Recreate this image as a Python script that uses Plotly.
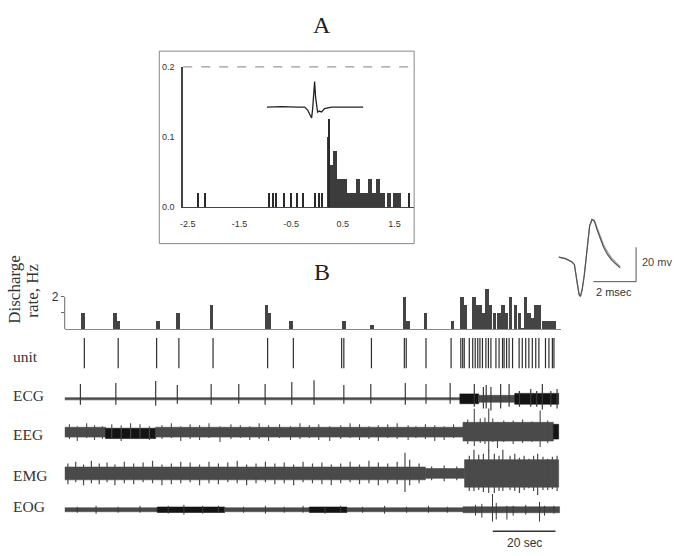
import plotly.graph_objects as go

W, H = 677, 556
def px(x): return x / W
def py(y): return 1 - y / H

# ---------------- Panel A data ----------------
A_XTICKS = [-2.5, -1.5, -0.5, 0.5, 1.5]
A_XTICK_TEXT = ["-2.5", "-1.5", "-0.5", "0.5", "1.5"]
A_YTICKS = [0.0, 0.1, 0.2]
A_YTICK_TEXT = ["0.0", "0.1", "0.2"]

A_ISO_X = [-2.30, -2.16, -0.92, -0.84, -0.79, -0.63, -0.49, -0.38, -0.26, -0.04, 0.04, 0.11, 1.78, 0.23]
A_ISO_Y = [0.02, 0.02, 0.02, 0.02, 0.02, 0.02, 0.02, 0.02, 0.02, 0.02, 0.02, 0.02, 0.02, 0.126]

A_HIST_X = [0.21, 0.25, 0.29, 0.33, 0.37, 0.41, 0.45, 0.49, 0.53, 0.57, 0.61, 0.65,
            0.69, 0.73, 0.77, 0.81, 0.85, 0.89, 0.93, 0.97, 1.01, 1.05, 1.09, 1.13,
            1.17, 1.21, 1.25, 1.29, 1.33, 1.37, 1.41, 1.45, 1.49, 1.53, 1.57, 1.61]
A_HIST_Y = [0.10, 0.06, 0.06, 0.08, 0.08, 0.04, 0.04, 0.04, 0.04, 0.04, 0.02, 0.02,
            0.02, 0.02, 0.04, 0.04, 0.02, 0.02, 0.02, 0.02, 0.04, 0.04, 0.02, 0.02,
            0.04, 0.04, 0.02, 0.02, 0.00, 0.02, 0.02, 0.00, 0.02, 0.02, 0.02, 0.02]

A_WAVE_T = [0, 15, 30, 38, 41, 43, 45, 46, 47, 48, 49, 50, 51, 53, 55, 58, 65, 97]
A_WAVE_V = [0, 0.5, 0, 0, -3, -8, -11, -2, 14, 26, 10, -2, -5, -4, -5, -1.5, 0, 0]

# ---------------- Spike waveform inset (ms, mV) ----------------
SPK_T = [0, 0.31, 0.62, 0.73, 0.85, 0.95, 1.01, 1.09, 1.19, 1.32, 1.44, 1.55, 1.66,
         1.78, 1.94, 2.09, 2.28, 2.48, 2.72, 2.87]
SPK_V = [0, -0.9, -2.9, -4.4, -14.3, -21.9, -22.9, -19.0, -10.5, 6.7, 18.1, 21.9, 20.9,
         16.2, 10.5, 5.7, 1.4, -1.9, -4.7, -6.3]
SPK_V2 = [0, -0.9, -2.9, -4.4, -14.3, -21.9, -22.9, -19.0, -10.5, 6.7, 18.1, 21.9, 21.5,
          17.4, 12.0, 7.2, 2.8, -0.8, -3.8, -5.6]
SCALE_MS = 2.0
SCALE_MV = 20.0

# ---------------- Panel B data (time in s) ----------------
RATE_T = [5.8, 16.0, 17.1, 29.7, 36.1, 46.7, 64.2, 65.2, 72.1,
          88.9, 97.8, 108.2, 109.4, 114.9, 123.5, 126.5, 127.7, 130.4, 131.3, 132.3,
          133.4, 134.5, 135.7, 137.0, 138.4, 139.6, 140.7, 142.1, 143.6, 144.9, 145.8,
          146.9, 148.0, 149.1, 150.1, 151.1, 152.8, 153.9, 154.9, 156.0]
RATE_HZ = [1.0, 1.0, 0.5, 0.5, 1.0, 1.5, 1.5, 1.0, 0.5,
           0.5, 0.25, 2.0, 0.5, 1.0, 0.5, 2.0, 1.5, 2.0, 1.5, 1.5,
           1.0, 2.5, 1.5, 1.0, 1.0, 1.5, 1.0, 2.0, 1.5, 1.0, 0.1,
           2.0, 1.0, 0.7, 1.5, 1.5, 0.5, 0.5, 0.5, 0.5]
RATE_TICKS = [1, 2]
RATE_TICK_TEXT = ["", "2"]

UNIT_T = [6.25, 17.05, 29.3, 36.4, 47.3, 64.7, 72.9, 88.3, 89.0, 97.8, 108.3, 108.9,
          115.2, 123.2, 126.3, 126.9, 127.4, 129.0, 130.1, 130.9, 131.7, 132.4, 133.2,
          134.3, 135.1, 135.9, 137.5, 138.5, 139.6, 140.1, 140.9, 141.7, 142.8, 144.9,
          145.9, 147.0, 148.0, 149.1, 150.2, 151.2, 153.3, 154.4, 155.5, 156.0]

# band segments: start, end, upper, lower, dark(1)/grey(0)
ECG_SEG = dict(t0=[0.0, 126.0, 132.0, 143.5], t1=[126.0, 132.0, 143.5, 157.5],
               up=[1.1, 5.0, 3.5, 5.5], lo=[-1.1, -5.0, -3.5, -5.5], dark=[0, 1, 0, 1])
ECG_SPK_T = [5.0, 16.3, 29.0, 35.9, 46.7, 55.5, 63.9, 72.4, 79.5, 89.0, 97.6, 108.6,
             115.2, 122.9, 130.6, 133.5, 134.4, 135.9, 139.0, 141.7, 145.0, 148.6,
             150.5, 152.3, 155.0, 157.0]
ECG_SPK_UP = [15, 16, 18, 14, 15, 15, 15, 17, 19, 14, 15, 16, 15, 16, 15, 12, 14, 12,
              15, 15, 8, 10, 8, 15, 8, 10]
ECG_SPK_DN = [-6, -6, -7, -5, -6, -5, -6, -6, -6, -5, -5, -6, -5, -5, -8, -10, -10,
              -12, -10, -8, -8, -8, -8, -11, -8, -10]

EEG_SEG = dict(t0=[0.0, 13.0, 29.0, 127.0, 155.8], t1=[13.0, 29.0, 127.0, 155.8, 157.5],
               up=[5.0, 4.0, 5.0, 10.0, 8.0], lo=[-5.0, -6.5, -5.0, -9.0, -7.0],
               dark=[0, 1, 0, 0, 1])
EEG_SPK_T = [1.5, 4, 7, 9.5, 12, 15, 18, 21, 24, 27, 31, 34, 37, 40, 43, 46, 49.5, 53,
             56, 59, 62, 65, 68.5, 72, 75, 78, 81, 84.5, 88, 91, 94, 97, 100, 103, 106,
             109.5, 112, 115, 118, 121, 124,
             128.5, 130.6, 132.5, 134.0, 135.2, 136.5, 138.0, 140.0, 143.0, 146.0, 149.0,
             151.6, 154.0]
EEG_SPK_UP = [8, 6, 9, 7, 6, 8, 7, 9, 8, 6, 7, 9, 6, 8, 7, 9, 6, 8, 7, 6, 9, 7, 8, 6,
              9, 7, 8, 6, 7, 9, 8, 6, 7, 8, 9, 7, 6, 8, 7, 6, 8,
              13, 24, 14, 15, 25, 14, 10, 12, 12, 13, 11, 22, 12]
EEG_SPK_DN = [-7, -9, -6, -8, -7, -6, -9, -7, -6, -8, -7, -6, -9, -7, -8, -6, -10, -7,
              -6, -8, -7, -9, -6, -8, -7, -6, -8, -9, -7, -6, -8, -7, -9, -6, -7, -8,
              -6, -7, -9, -8, -6,
              -12, -14, -11, -12, -19, -10, -16, -10, -12, -11, -10, -15, -11]

EMG_SEG = dict(t0=[0.0, 115.0, 127.5], t1=[115.0, 127.5, 157.5],
               up=[6.5, 5.0, 14.0], lo=[-6.5, -5.0, -14.0], dark=[0, 0, 0])
EMG_SPK_T = [1, 3.5, 6, 8.5, 11, 13.5, 16, 19, 22, 25, 28, 31, 34, 37, 40, 43, 46,
             49, 52, 55, 58, 61, 64, 67, 70, 73, 76, 79, 82, 85, 88, 91, 94, 97, 100,
             103, 106, 108.5, 110, 113, 117, 121, 125,
             129, 130.5, 132, 133.5, 135.2, 137, 138.5, 139.7, 142, 143.5, 145, 146.5,
             148, 149.5, 150.8, 152.5, 154, 155.5, 157]
EMG_SPK_UP = [10, 12, 9, 13, 10, 11, 9, 12, 10, 11, 13, 9, 10, 12, 11, 9, 12, 10, 11,
              13, 9, 10, 12, 10, 11, 9, 12, 10, 11, 9, 10, 12, 9, 13, 11, 10, 12, 21,
              14, 10, 7, 8, 7,
              18, 26, 19, 20, 26, 20, 18, 25, 18, 20, 16, 18, 15, 18, 20, 17, 15, 17, 18]
EMG_SPK_DN = [-11, -9, -12, -10, -11, -9, -12, -10, -11, -9, -10, -12, -11, -10, -9,
              -12, -10, -11, -9, -10, -12, -10, -9, -11, -10, -12, -9, -10, -11, -12,
              -10, -9, -11, -10, -12, -10, -11, -19, -12, -10, -7, -8, -7,
              -18, -18, -17, -19, -20, -20, -18, -18, -17, -18, -20, -17, -15, -18,
              -22, -17, -17, -16, -18]

EOG_SEG = dict(t0=[0.0, 29.5, 51.0, 78.0, 90.0, 127.0], t1=[29.5, 51.0, 78.0, 90.0, 127.0, 157.8],
               up=[2.0, 2.8, 2.0, 2.8, 2.0, 3.0], lo=[-2.0, -2.8, -2.0, -2.8, -2.0, -3.0],
               dark=[0, 1, 0, 1, 0, 0])
EOG_SPK_T = [4, 10, 17, 24, 33, 38, 44, 49, 57, 64, 70, 76, 83, 88, 95, 102, 109, 116,
             122, 131, 133, 136.4, 137.6, 141, 143, 147, 151.4, 153, 156]
EOG_SPK_UP = [3, 4, 3, 4, 4, 5, 4, 4, 3, 4, 3, 4, 3, 4, 3, 4, 3, 4, 3, 5, 6, 16, 7, 4,
              4, 5, 8, 4, 4]
EOG_SPK_DN = [-3, -4, -3, -3, -4, -5, -4, -3, -3, -4, -3, -3, -4, -3, -3, -4, -3, -3,
              -3, -6, -8, -12, -10, -10, -6, -5, -12, -6, -4]

SCALE_SEC_START = 136.5
SCALE_SEC_LEN = 20.0

TRACE_LABELS = ["unit", "ECG", "EEG", "EMG", "EOG"]
LABEL_Y = [358, 398, 437, 479, 511]

GREY = "#4a4a4a"
DARK = "#141414"
SERIF = "Liberation Serif"
SANS = "Liberation Sans"

fig = go.Figure()

# ---- Panel A ----
fig.add_trace(go.Bar(x=A_HIST_X, y=A_HIST_Y, width=0.04, marker=dict(color="#3c3c3c", line=dict(width=0)),
                     xaxis="x", yaxis="y", showlegend=False, hoverinfo="skip"))
fig.add_trace(go.Bar(x=A_ISO_X, y=A_ISO_Y, width=0.022, marker=dict(color="#2a2a2a", line=dict(width=0)),
                     xaxis="x", yaxis="y", showlegend=False, hoverinfo="skip"))
fig.add_trace(go.Scatter(x=A_WAVE_T, y=A_WAVE_V, mode="lines", line=dict(color="#222", width=1.3),
                         xaxis="x2", yaxis="y2", showlegend=False, hoverinfo="skip"))

# ---- big spike inset ----
fig.add_trace(go.Scatter(x=SPK_T, y=SPK_V2, mode="lines", line=dict(color="#999", width=1.2),
                         xaxis="x3", yaxis="y3", showlegend=False, hoverinfo="skip"))
fig.add_trace(go.Scatter(x=SPK_T, y=SPK_V, mode="lines", line=dict(color="#555", width=1.2),
                         xaxis="x3", yaxis="y3", showlegend=False, hoverinfo="skip"))
sb_t1 = 3.61
sb_v0 = -14.3
fig.add_trace(go.Scatter(x=[sb_t1 - SCALE_MS, sb_t1, sb_t1], y=[sb_v0, sb_v0, sb_v0 + SCALE_MV],
                         mode="lines", line=dict(color="#555", width=1),
                         xaxis="x3", yaxis="y3", showlegend=False, hoverinfo="skip"))

# ---- Panel B ----
fig.add_trace(go.Bar(x=RATE_T, y=RATE_HZ, width=1.15, marker=dict(color="#444", line=dict(width=0)),
                     xaxis="x4", yaxis="y4", showlegend=False, hoverinfo="skip"))

ux, uy = [], []
for t in UNIT_T:
    ux += [t, t, None]
    uy += [0.06, 0.94, None]
fig.add_trace(go.Scatter(x=ux, y=uy, mode="lines", line=dict(color="#2e2e2e", width=1.2),
                         xaxis="x5", yaxis="y5", showlegend=False, hoverinfo="skip"))

def add_bands(seg, xa, ya):
    for t0, t1, u, l, d in zip(seg["t0"], seg["t1"], seg["up"], seg["lo"], seg["dark"]):
        c = DARK if d else GREY
        fig.add_trace(go.Scatter(x=[t0, t1, t1, t0, t0], y=[u, u, l, l, u], mode="lines",
                                 fill="toself", fillcolor=c, line=dict(color=c, width=0.6),
                                 xaxis=xa, yaxis=ya, showlegend=False, hoverinfo="skip"))

def add_spikes(ts, ups, dns, xa, ya, color, w):
    xs, ys = [], []
    for t, u, d in zip(ts, ups, dns):
        xs += [t, t, None]
        ys += [d, u, None]
    fig.add_trace(go.Scatter(x=xs, y=ys, mode="lines", line=dict(color=color, width=w),
                             xaxis=xa, yaxis=ya, showlegend=False, hoverinfo="skip"))

add_bands(ECG_SEG, "x6", "y6")
add_spikes(ECG_SPK_T, ECG_SPK_UP, ECG_SPK_DN, "x6", "y6", "#3a3a3a", 1.2)
add_bands(EEG_SEG, "x7", "y7")
add_spikes(EEG_SPK_T, EEG_SPK_UP, EEG_SPK_DN, "x7", "y7", GREY, 1.1)
add_bands(EMG_SEG, "x8", "y8")
add_spikes(EMG_SPK_T, EMG_SPK_UP, EMG_SPK_DN, "x8", "y8", GREY, 1.2)
add_bands(EOG_SEG, "x9", "y9")
add_spikes(EOG_SPK_T, EOG_SPK_UP, EOG_SPK_DN, "x9", "y9", "#3a3a3a", 1.0)

# ---- layout ----
TMAX = (560 - 62) / 3.15
tfont = dict(family=SANS, size=9, color="#333")
layout = dict(
    width=W, height=H, autosize=False, margin=dict(l=0, r=0, t=0, b=0),
    paper_bgcolor="white", plot_bgcolor="rgba(0,0,0,0)", showlegend=False, bargap=0,
    xaxis=dict(domain=[px(181), px(413)], range=[-2.59, 1.88], anchor="y", showline=True,
               linecolor="#444", linewidth=1.2, tickvals=A_XTICKS, ticktext=A_XTICK_TEXT,
               ticks="", tickfont=tfont, showgrid=False, zeroline=False, ticklabelstandoff=8),
    yaxis=dict(domain=[py(206), py(63)], range=[0, 0.2], anchor="x", showline=True,
               linecolor="#444", linewidth=1.6, tickvals=A_YTICKS, ticktext=A_YTICK_TEXT,
               ticks="", tickfont=tfont, showgrid=False, zeroline=False, ticklabelstandoff=5),
    xaxis2=dict(domain=[px(265), px(362)], range=[0, 97], anchor="y2", visible=False),
    yaxis2=dict(domain=[py(118), py(76)], range=[-14, 28], anchor="x2", visible=False),
    xaxis3=dict(domain=[px(555), px(645)], range=[-0.153, 4.033], anchor="y3", visible=False),
    yaxis3=dict(domain=[py(300), py(215)], range=[-24.74, 23.83], anchor="x3", visible=False),
    xaxis4=dict(domain=[px(62), px(560)], range=[0, TMAX], anchor="y4", showline=True,
                linecolor="#888", linewidth=1.2, showticklabels=False, ticks="", showgrid=False,
                zeroline=False),
    yaxis4=dict(domain=[py(330), py(330 - 2.6 * 16.5)], range=[0, 2.6], anchor="x4",
                showline=False, tickvals=RATE_TICKS, ticktext=RATE_TICK_TEXT, ticks="outside",
                ticklen=3, tickcolor="#666", tickfont=dict(family=SANS, size=12, color="#333"),
                showgrid=False, zeroline=False),
)
trace_axes = {5: (372, 337, [0, 1]), 6: (421, 381, [-20, 20]), 7: (459, 411, [-24, 24]),
              8: (501, 453, [-24, 24]), 9: (530, 498, [-16, 16])}
for k, (yb, yt, rng) in trace_axes.items():
    layout[f"xaxis{k}"] = dict(domain=[px(62), px(560)], range=[0, TMAX], anchor=f"y{k}",
                               matches="x4", visible=False)
    layout[f"yaxis{k}"] = dict(domain=[py(yb), py(yt)], range=rng, anchor=f"x{k}", visible=False)
fig.update_layout(**layout)

shapes = [
    dict(type="rect", xref="paper", yref="paper", x0=px(157), x1=px(413), y0=py(243), y1=py(47),
         line=dict(color="#888", width=1)),
    dict(type="line", xref="paper", yref="paper", x0=px(181), x1=px(413), y0=py(63), y1=py(63),
         line=dict(color="#999", width=1.2, dash="dash")),
    dict(type="line", xref="x4 domain", yref="y4", x0=0, x1=0, y0=0, y1=2,
         line=dict(color="#666", width=1)),
    dict(type="line", xref="x4", yref="paper", x0=SCALE_SEC_START, x1=SCALE_SEC_START + SCALE_SEC_LEN,
         y0=py(536), y1=py(536), line=dict(color="#333", width=1.5)),
]
fig.update_layout(shapes=shapes)

def a(text, x, y, size, family, color="#333", xanchor="center", angle=0, xref="paper"):
    return dict(text=text, x=x, y=y, xref=xref, yref="paper", showarrow=False,
                xanchor=xanchor, yanchor="middle", textangle=angle,
                font=dict(family=family, size=size, color=color))

ann = [
    a("A", px(320), py(20), 24, SERIF, "#222"),
    a("B", px(320), py(272), 24, SERIF, "#222"),
    a("Discharge", px(12), py(289), 17, SERIF, angle=-90),
    a("rate, Hz", px(30), py(291), 17, SERIF, angle=-90),
    a("20 mv", px(640), py(262), 11, SANS, "#444", xanchor="left"),
    a("2 msec", px(614), py(292), 11, SANS),
    a("20 sec", SCALE_SEC_START + SCALE_SEC_LEN / 2, py(548), 12, SANS, xref="x4"),
]
for lab, yy in zip(TRACE_LABELS, LABEL_Y):
    ann.append(a(lab, px(8), py(yy), 15.5, SERIF, xanchor="left"))
fig.update_layout(annotations=ann)

fig.write_html("out.html")
